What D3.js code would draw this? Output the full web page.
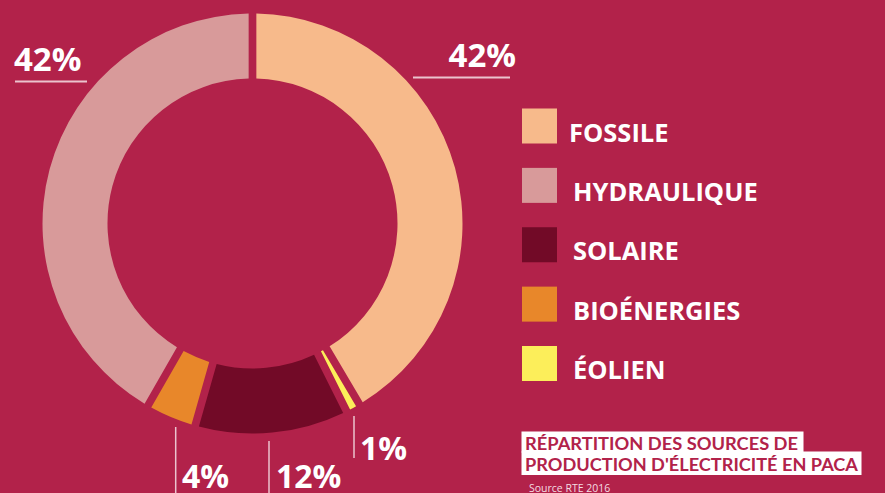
<!DOCTYPE html>
<html><head><meta charset="utf-8">
<script src="https://cdn.jsdelivr.net/npm/d3@7"></script>
<style>
html,body{margin:0;padding:0;background:#B2224A;}
svg{display:block;}
</style></head>
<body>
<svg id="chart" width="885" height="493"></svg>
<script>
// Data (clockwise from 12 o'clock)
const sliceKeys   = ["FOSSILE", "ÉOLIEN", "SOLAIRE", "BIOÉNERGIES", "HYDRAULIQUE"];
const sliceValues = [41.5, 1.1, 11.8, 3.9, 41.7];
const sliceLabels = ["42%", "1%", "12%", "4%", "42%"];
const legendKeys  = ["FOSSILE", "HYDRAULIQUE", "SOLAIRE", "BIOÉNERGIES", "ÉOLIEN"];
const titleLines  = ["RÉPARTITION DES SOURCES DE", "PRODUCTION D'ÉLECTRICITÉ EN PACA"];
const sourceText  = "Source RTE 2016";

const colors = {
  "FOSSILE": "#F7BA8B",
  "HYDRAULIQUE": "#D89A9A",
  "SOLAIRE": "#720A27",
  "BIOÉNERGIES": "#E8872A",
  "ÉOLIEN": "#FCEE5A"
};
const bg = "#B2224A";
const FONT = "'Open Sans', 'DejaVu Sans', sans-serif";

const svg = d3.select("#chart");
svg.append("rect").attr("width", 885).attr("height", 493).attr("fill", bg);

const cx = 252.5, cy = 223.5, rOut = 210, rIn = 145;
const g = svg.append("g").attr("transform", `translate(${cx},${cy})`);

const pie = d3.pie().sort(null).value(d => d.v);
const data = sliceKeys.map((k, i) => ({k, v: sliceValues[i], label: sliceLabels[i]}));
const arcs = pie(data);
const arc = d3.arc().innerRadius(rIn).outerRadius(rOut).padAngle(0.0302);

g.selectAll("path.slice").data(arcs).enter().append("path")
  .attr("class", "slice")
  .attr("d", arc)
  .attr("fill", d => colors[d.data.k]);

// Percentage labels
const lab = svg.append("g").attr("font-family", FONT).attr("font-weight", 700)
  .attr("fill", "#fff");

function pct(text, x, y, anchor, size) {
  lab.append("text").attr("x", x).attr("y", y).attr("text-anchor", anchor)
    .attr("font-size", size).text(text);
}
const byKey = Object.fromEntries(arcs.map(a => [a.data.k, a]));
const lineColor = "#EBC3CE";

// HYDRAULIQUE 42% (top-left)
pct(byKey["HYDRAULIQUE"].data.label, 14, 71, "start", 33);
svg.append("line").attr("x1", 15).attr("x2", 87).attr("y1", 81.5).attr("y2", 81.5)
  .attr("stroke", lineColor).attr("stroke-width", 2);
// FOSSILE 42% (top-right)
pct(byKey["FOSSILE"].data.label, 516, 67, "end", 33);
svg.append("line").attr("x1", 413).attr("x2", 510).attr("y1", 77.5).attr("y2", 77.5)
  .attr("stroke", lineColor).attr("stroke-width", 2);
// BIOÉNERGIES 4%
svg.append("line").attr("x1", 175.7).attr("x2", 175.7).attr("y1", 427).attr("y2", 493)
  .attr("stroke", lineColor).attr("stroke-width", 1.5);
pct(byKey["BIOÉNERGIES"].data.label, 182, 488, "start", 32);
// SOLAIRE 12%
svg.append("line").attr("x1", 269).attr("x2", 269).attr("y1", 441).attr("y2", 493)
  .attr("stroke", lineColor).attr("stroke-width", 1.5);
pct(byKey["SOLAIRE"].data.label, 276, 488, "start", 32);
// ÉOLIEN 1%
svg.append("line").attr("x1", 354).attr("x2", 354).attr("y1", 416).attr("y2", 458)
  .attr("stroke", lineColor).attr("stroke-width", 1.5);
pct(byKey["ÉOLIEN"].data.label, 360, 460, "start", 32);

// Legend
const legY = d3.scalePoint().domain(legendKeys).range([108.5, 346]);
const leg = svg.append("g");
const items = leg.selectAll("g").data(legendKeys).enter().append("g")
  .attr("transform", d => `translate(0,${legY(d)})`);
items.append("rect").attr("x", 522).attr("y", 0).attr("width", 35).attr("height", 35)
  .attr("fill", d => colors[d]);
items.append("text").attr("x", (d, i) => i === 0 ? 569 : 573).attr("y", 33)
  .attr("font-family", FONT).attr("font-weight", 700).attr("font-size", 25.5)
  .attr("fill", "#fff").text(d => d);

// Title block
const tb = svg.append("g");
tb.append("rect").attr("x", 521.5).attr("y", 431.5).attr("width", 282).attr("height", 21).attr("fill", "#fff");
tb.append("rect").attr("x", 521.5).attr("y", 451.5).attr("width", 340).attr("height", 23.5).attr("fill", "#fff");
const titleWidths = [273, 333];
tb.selectAll("text").data(titleLines).enter().append("text")
  .attr("x", 525).attr("y", (d, i) => 450 + i * 20.5)
  .attr("font-family", "Lato, 'Open Sans', sans-serif").attr("font-weight", 700).attr("font-size", 16.5)
  .attr("textLength", (d, i) => titleWidths[i]).attr("lengthAdjust", "spacingAndGlyphs")
  .attr("fill", bg).text(d => d);
svg.append("text").attr("x", 529).attr("y", 491.5)
  .attr("font-family", FONT).attr("font-size", 10.5).attr("fill", "#F4DCE2")
  .text(sourceText);
</script>
</body></html>
